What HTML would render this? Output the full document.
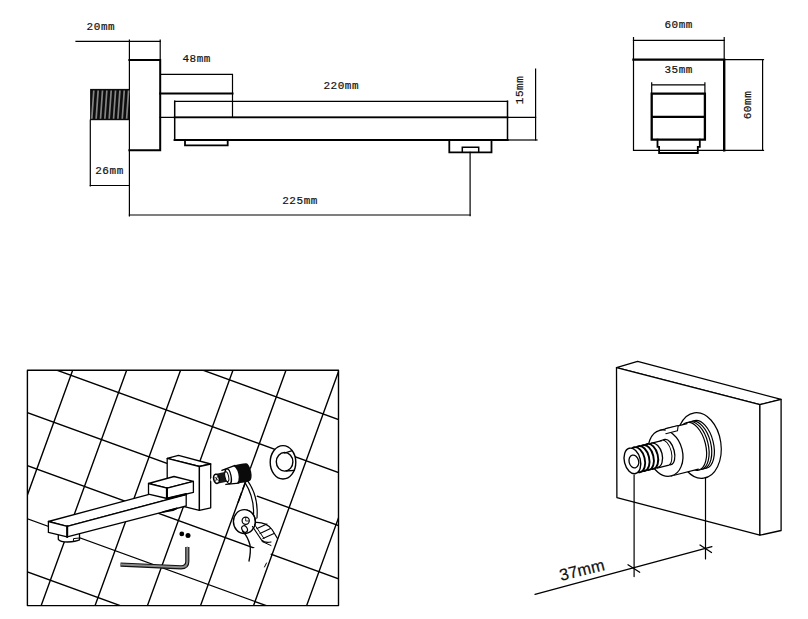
<!DOCTYPE html>
<html><head><meta charset="utf-8">
<style>
html,body{margin:0;padding:0;background:#fff;}
body{width:808px;height:619px;overflow:hidden;}
svg{display:block;}
text{font-family:"Liberation Mono",monospace;fill:#111;stroke:#111;stroke-width:0.2;}
</style></head><body>
<svg width="808" height="619" viewBox="0 0 808 619">
<g id="topleft" stroke="#000" fill="none" stroke-linecap="square">
  <!-- 20mm dim -->
  <path d="M76 41.3H160.2" stroke-width="1.2"/>
  <path d="M129.4 40V216M160.2 40V60" stroke-width="1.2"/>
  <!-- plate -->
  <path d="M129.4 60H160.2V150.3H129.4" stroke-width="2"/>
  <!-- thread -->
  <rect x="90.1" y="88.9" width="39.4" height="31.3" fill="#0d0d0d" stroke="none"/><path d="M93.80 90.5L91.80 118.8M98.15 90.5L96.15 118.8M102.50 90.5L100.50 118.8M106.85 90.5L104.85 118.8M111.20 90.5L109.20 118.8M115.55 90.5L113.55 118.8M119.90 90.5L117.90 118.8M124.25 90.5L122.25 118.8M128.60 90.5L126.60 118.8" stroke="#858585" stroke-width="1.7" stroke-linecap="butt"/>
  <path d="M90.3 120V186" stroke-width="1.2"/>
  <path d="M90.3 185.5H129.4" stroke-width="1.2"/>
  <!-- 48mm -->
  <path d="M161 74.3H232.5V117.3" stroke-width="1.2"/>
  <path d="M160.2 93.4H232.5" stroke-width="2"/>
  <path d="M160.2 117.3H535.6" stroke-width="1.2"/>
  <path d="M174.7 117.3H507.5" stroke-width="1.8"/>
  <!-- 220mm -->
  <path d="M174.7 101.3H507.5" stroke-width="1.2"/>
  <path d="M174.7 101.3V140M507.5 101.3V140" stroke-width="1.5"/>
  <path d="M174.7 140H507.5" stroke-width="2.2"/>
  <path d="M507.5 140H537" stroke-width="1.2"/>
  <!-- aerator 1 -->
  <path d="M185 140V145.4H227.7V140" stroke-width="1.8"/>
  <!-- aerator 2 -->
  <path d="M449.3 140V152.3H491.5V140" stroke-width="1.8"/>
  <path d="M462.3 152.3V147.2H478.7V152.3" stroke-width="1.5"/>
  <path d="M470.1 152.3V215.7" stroke-width="1.2"/>
  <path d="M129.4 215H470.1" stroke-width="1.2"/>
  <!-- 15mm -->
  <path d="M535.6 69.2V140" stroke-width="1.2"/>
</g>
<g id="topright" stroke="#000" fill="none" stroke-linecap="square">
  <path d="M633.5 37.7V150.4H724.2M724.2 37.7V59.6" stroke-width="1.2"/>
  <path d="M633.5 40.3H724.2" stroke-width="1.2"/>
  <path d="M633.5 59.6H724.2V150.4" stroke-width="2.4"/>
  <path d="M724.2 59.6H763.5M724.2 150.4H763.5M762.6 59.6V150.4" stroke-width="1.2"/>
  <path d="M651.7 82.8V93.6M704.9 82.8V93.6M651.7 84.8H704.9" stroke-width="1.2"/>
  <path d="M651.7 93.6H704.9V139.7H651.7ZM651.7 116.8H704.9" stroke-width="2.3"/>
  <path d="M657.5 139.7V146.9H659.1V153H697.8V146.9H699.8V139.7" stroke-width="1.8"/>
</g>
<g id="texts" font-size="11" letter-spacing="0.55">
  <text x="86.6" y="30.2">20mm</text>
  <text x="182.4" y="62.3">48mm</text>
  <text x="323.4" y="89">220mm</text>
  <text x="95.2" y="173.6">26mm</text>
  <text x="282.2" y="203.5">225mm</text>
  <text x="664.4" y="28.1">60mm</text>
  <text x="664.4" y="72.5">35mm</text>
  <text transform="translate(523.2 104.2) rotate(-90)">15mm</text>
  <text transform="translate(751.3 119.3) rotate(-90)">60mm</text>
</g>

<defs>
  <clipPath id="frameclip"><rect x="27.4" y="370.1" width="311" height="235.5"/></clipPath>
</defs>
<g id="bottomleft" stroke="#000" fill="none" stroke-linejoin="round" stroke-linecap="round">
  <g clip-path="url(#frameclip)" stroke-width="1.4">
    <path d="M37.6 320.3L-84.1 655.6M90.8 320.3L-30.9 655.6M144.8 320.3L23.0 655.6M198.7 320.3L76.9 655.6M251.1 320.3L129.3 655.6M304.1 320.3L182.4 655.6M357.1 320.3L235.4 655.6M410.2 320.3L288.5 655.6M463.4 320.3L341.7 655.6"/>
    <path d="M-22.6 235.1L388.4 384.5M-22.6 288.2L388.4 437.6M-22.6 341.3L388.4 490.7M-22.6 394.4L388.4 543.8M-22.6 447.5L388.4 596.9M-22.6 500.6L388.4 650.0M-22.6 553.7L388.4 703.1M-22.6 606.8L388.4 756.2M-22.6 659.9L388.4 809.3"/>
  </g>
  <rect x="27.4" y="370.3" width="311.1" height="235.3" stroke-width="1.4"/>
  <!-- faucet -->
  <path d="M58.3 532V539.3Q60 542 67.6 542Q76 541.6 79.5 539.9V531" fill="#fff" stroke-width="1.3"/>
  <path d="M73.5 540.5V538.6L79.5 538" stroke-width="1"/>
  <g fill="#fff" stroke-width="1.3">
    <!-- plate -->
    <path d="M167.2 458.4L178.5 455.4L210.7 464L199.4 466.5Z"/>
    <path d="M167.2 458.4L199.4 466.5V510.4L167.2 502.4Z"/>
    <path d="M199.4 466.5L210.7 464V507.8L199.4 510.4Z"/>
    <!-- arm -->
    <path d="M48.4 521.5L150 494.2L186.2 494.7L67.2 526.3Z"/>
    <path d="M67.2 526.3L186.2 494.7V506L67.2 536.9Z"/>
    <path d="M48.4 521.5L67.2 526.3V536.9L48.4 532.4Z"/>
    <!-- block -->
    <path d="M148.5 483.5L174 476.5L193.4 481.4L167.2 488.2Z"/>
    <path d="M148.5 483.5L167.2 488.2V498.5L148.5 494.2Z"/>
    <path d="M167.2 488.2L193.4 481.4V492.3L167.2 498.5Z"/>
  </g>
  <path d="M167.2 498.5L186.2 494" stroke-width="2"/>
  <path d="M166.9 488V498.7" stroke-width="2"/>
  <path d="M67.2 526.3V536.9" stroke-width="2"/>
  <!-- spout aerator -->
  <path d="M163 512L177 508.2L173 510.2Z" fill="#000" stroke-width="1.6"/>
  <!-- screws -->
  <circle cx="181.8" cy="533.9" r="2.4" fill="#000" stroke="none"/>
  <circle cx="188" cy="535.6" r="2.5" fill="#000" stroke="none"/>
  <!-- hex key -->
  <path d="M187.3 547V561.5Q187.3 567.3 181 567.3L120.5 564.6" stroke="#111" stroke-width="4.2" stroke-linecap="butt"/>
  <path d="M187.3 547.5V561.5Q187.3 567.3 181 567.3L121 564.6" stroke="#8a8a8a" stroke-width="2"/>
  <!-- ring -->
  <ellipse cx="283" cy="462.3" rx="12.8" ry="16.7" fill="#fff" stroke-width="1.4"/>
  <ellipse cx="284.6" cy="461.8" rx="8.3" ry="9.3" fill="#fff" stroke-width="1.4"/>
  <path d="M284.6 453L291.5 450.9M286.1 471L294.5 470.3" stroke-width="1.3"/>
  <!-- mask B2 segment near cartridge -->
  <path d="M212 479.7L255.5 495.5" stroke="#fff" stroke-width="3.2"/>
  <path d="M246.9 478.2L238.2 502.2" stroke-width="1.4"/>
  <!-- cartridge -->
  <g transform="translate(216.5 478.8) rotate(-12)">
    <path d="M12 -7.5L21 -9.2Q27 -10 32 -9A3.4 9 0 0 1 32 9Q27 10 21 8.8L12 7.5Z" fill="#fff" stroke="none"/>
    <path d="M18.5 -9Q27 -10 32 -9A3.4 9 0 0 1 32 9Q27 10 18.5 8.6Z" fill="#0a0a0a" stroke="none"/>
    <path d="M17.8 -9.2A4.5 8.9 0 0 1 17.8 8.8Z" fill="#fff" stroke="none"/>
    <path d="M7 -7.2L21 -9.2M8 7.5L21 8.8" stroke-width="1.3"/>
    <ellipse cx="12" cy="0" rx="2.8" ry="7.5" fill="#fff" stroke-width="1.3"/>
    <path d="M1 -5H10.5V5H1Z" fill="#1a1a1a" stroke="none"/>
    <ellipse cx="10.5" cy="0" rx="1.8" ry="5" fill="#fff" stroke-width="1"/>
    <ellipse cx="0" cy="0" rx="2.8" ry="4.6" fill="#fff" stroke-width="1.6"/>
    <path d="M-1.3 -2L1.3 2M-1.3 2L1.3 -2" stroke-width="0.8"/>
  </g>
  <!-- tape -->
  <path d="M244.9 482.4Q256 500 252.9 521.6" stroke-width="1.2"/>
  <path d="M247.5 480.7Q260 498 256.4 523.3" stroke-width="1.2"/>
  <!-- hand fill -->
  <path d="M243 527L248 537L250.5 544L255 547.5L250 550L249 561L249 584L259.8 584L276.3 538.8L268 526L258 518L252 522Z" fill="#fff" stroke="none"/>
  <!-- disc -->
  <ellipse cx="244.4" cy="521.6" rx="11" ry="12" fill="#fff" stroke-width="1.4"/>
  <path d="M247 510Q256 513 255.5 524" stroke-width="1.1"/>
  <circle cx="245.7" cy="520.7" r="3.6" fill="#fff" stroke-width="1.2"/>
  <path d="M245.7 517.5V521H248.5" stroke-width="0.8"/>
  <!-- thumb -->
  <ellipse cx="244.6" cy="529" rx="2.6" ry="3.4" transform="rotate(-30 244.6 529)" fill="#fff" stroke-width="1.2"/>
  <path d="M242.5 531Q248 537 250 545Q251 552 249 561" stroke-width="1.3"/>
  <!-- fingers -->
  <path d="M255.5 522.5Q266 522 272 529.5L277.5 538.5" stroke-width="1.2"/>
  <path d="M252.5 526.5L261.5 540Q265 543.5 271 542" stroke-width="1.2"/>
  <path d="M254.5 524.5L264 538.5" stroke-width="1"/>
  <path d="M257 528.5L267 524M260 533.5L270.5 528.5M263 538.5L274 533.5" stroke-width="1.1"/>
  <path d="M262 541.5L271 545.5" stroke-width="1"/>
  <path d="M264.5 567L266.5 563" stroke-width="1"/>
</g>

<g id="bottomright" stroke="#000" fill="none" stroke-linejoin="round" stroke-linecap="round">
  <path d="M616.5 367.6L637.6 361.3L781.1 399.4L759.9 404.6Z" fill="#fff" stroke-width="1.3"/>
  <path d="M616.5 367.6L759.9 404.6V535.2L616.9 497.6Z" fill="#fff" stroke-width="1.3"/>
  <path d="M759.9 404.6L781.1 399.4V530.5L759.9 535.2Z" fill="#fff" stroke-width="1.3"/>
  <!-- flange -->
  <ellipse cx="699" cy="445.5" rx="22" ry="33" transform="rotate(-8 699 445.5)" fill="#fff" stroke-width="1.2"/>
  <g transform="translate(632.4 460.9) rotate(-14)">
    <!-- threads on nut -->
    <ellipse cx="70" cy="0.5" rx="13" ry="24.5" fill="#fff" stroke-width="1.2"/>
    <ellipse cx="67.3" cy="0.5" rx="13" ry="24.5" fill="#fff" stroke-width="1.2"/>
    <ellipse cx="64.6" cy="0.5" rx="13" ry="24.5" fill="#fff" stroke-width="1.2"/>
    <ellipse cx="62" cy="0.5" rx="13" ry="24.5" fill="#fff" stroke-width="1.2"/>
    <path d="M34 -23H62V24H34Z" fill="#fff" stroke="none"/>
    <path d="M34 -23H62M34 24H62" stroke-width="1.2"/>
    <ellipse cx="34" cy="0.5" rx="17" ry="23.5" fill="#fff" stroke-width="1.3"/>
    <path d="M40 -23.3L53 -23.3L51 -18.3L39 -18.3" fill="#fff" stroke-width="1.1"/>
    <!-- stem -->
    <ellipse cx="36.5" cy="0" rx="6.5" ry="13" fill="#fff" stroke-width="1.3"/>
    <ellipse cx="33.5" cy="0" rx="6.5" ry="13" fill="#fff" stroke-width="1"/>
    <path d="M22 -12.5H33.5V13H22Z" fill="#fff" stroke="none"/>
    <path d="M22 -12.5H33.5M22 13H33.5" stroke-width="1.2"/>
    <!-- threaded tip -->
    <ellipse cx="23" cy="0" rx="7.5" ry="12.5" fill="#fff" stroke-width="1.3"/>
    <ellipse cx="18.5" cy="0" rx="7.5" ry="12.8" fill="#fff" stroke-width="1.9"/>
    <ellipse cx="14" cy="0" rx="7.5" ry="12.8" fill="#fff" stroke-width="1.9"/>
    <ellipse cx="9.5" cy="0" rx="7.5" ry="12.8" fill="#fff" stroke-width="1.9"/>
    <ellipse cx="5" cy="0" rx="7.5" ry="12.8" fill="#fff" stroke-width="1.9"/>
    <ellipse cx="0" cy="0" rx="8" ry="13" fill="#fff" stroke-width="1.4"/>
    <ellipse cx="1.3" cy="0.9" rx="4.8" ry="6.5" fill="#fff" stroke-width="1.3"/>
  </g>
  <!-- dims -->
  <path d="M634.1 475V576.6M705.5 478V559" stroke-width="1.2"/>
  <path d="M535 594.3L711.9 546.7" stroke-width="1.3"/>
  <path d="M628 564.8L639.7 572.2M700 545L711.5 552.5" stroke-width="1.3"/>
</g>
<text transform="translate(561 581) rotate(-14)" font-size="16.5" style="font-family:'Liberation Sans',sans-serif" fill="#222">37mm</text>
</svg>
</body></html>
